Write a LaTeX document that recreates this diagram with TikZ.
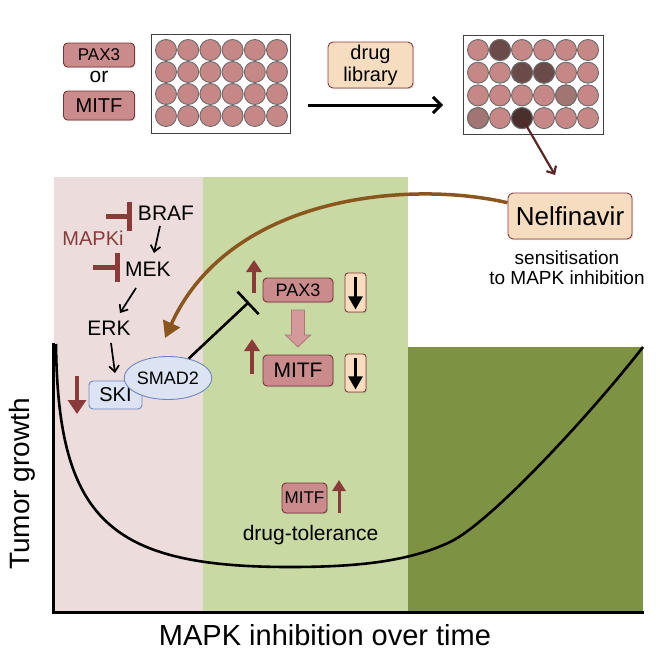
\documentclass[tikz,border=0pt]{standalone}
\usepackage{fontspec}
\setmainfont{Liberation Sans}
\usetikzlibrary{arrows.meta,shapes.geometric,shadows}
\definecolor{pinkbg}{HTML}{ECDDDC}
\definecolor{ltgreen}{HTML}{C8D9A3}
\definecolor{dkgreen}{HTML}{7D9243}
\definecolor{boxred}{HTML}{C98B8B}
\definecolor{boxedge}{HTML}{7A3535}
\definecolor{wellfill}{HTML}{C68886}
\definecolor{wellA}{HTML}{6B4B4A}
\definecolor{wellB}{HTML}{4A2F2F}
\definecolor{wellC}{HTML}{A07572}
\definecolor{peach}{HTML}{F6DDBF}
\definecolor{darkred}{HTML}{8B3A3A}
\definecolor{brownarr}{HTML}{8B561E}
\definecolor{bluefill}{HTML}{DCE3F2}
\definecolor{blueedge}{HTML}{6F86C0}
\definecolor{plotarr}{HTML}{5A2626}
\definecolor{hollowfill}{HTML}{D4999A}
\definecolor{hollowedge}{HTML}{B07676}
\newcommand{\fsz}[1]{\fontsize{#1}{#1}\selectfont}
\begin{document}
\begin{tikzpicture}[x=1pt,y=-1pt,
  txt/.style={inner sep=0pt, font=\fsz{21}},
  shad/.style={drop shadow={opacity=0.25, shadow xshift=1.2pt, shadow yshift=-1.2pt}},
  redbox/.style={draw=boxedge, fill=boxred, line width=0.9pt, rounded corners=4pt, inner sep=0pt, shad},
  peachbox/.style={draw=darkred, fill=peach, line width=0.9pt, rounded corners=5pt, inner sep=0pt, shad},
  bluebox/.style={draw=blueedge, fill=bluefill, line width=0.9pt, inner sep=0pt},
  well/.style={circle, draw=black!58, line width=0.9pt, minimum size=21pt, inner sep=0pt, fill=wellfill},
  blk/.style={line width=1.7pt, -{Straight Barb[length=6pt,width=10pt]}},
  redarr/.style={draw=darkred, line width=3.5pt, -{Triangle[length=12pt,width=15pt]}},
  inhib/.style={draw=darkred, line width=5pt, -{Bar[width=29pt]}},
  dnarr/.style={line width=2.5pt, -{Triangle[length=13pt,width=14pt]}},
]
\useasboundingbox (0,0) rectangle (664,664);
% backgrounds
\fill[pinkbg] (54,177) rectangle (203,612);
\fill[ltgreen] (203,177) rectangle (408,612);
\fill[dkgreen] (408,347) rectangle (643,612);
% axes
\draw[line width=3pt, line join=miter] (53,343) -- (53,612) -- (644,612);
% growth curve
\draw[line width=2.6pt] (56,344) .. controls (58,520) and (110,567) .. (290,567)
  .. controls (360,567) and (410,561) .. (450,542)
  .. controls (490,523) and (590,415) .. (643,347);
% plate 1
\node[draw=black!75, fill=white, line width=1pt, minimum width=139pt, minimum height=99pt, inner sep=0pt] (plateA) at (220.5,83.5) {};
\foreach \i in {0,...,5} \foreach \j in {0,...,3}
  \node[well] (pA-\i-\j) at (166+22.2*\i, 50+22*\j) {};
% plate 2
\node[draw=black!75, fill=white, line width=1pt, minimum width=140pt, minimum height=99pt, inner sep=0pt] (plateB) at (533,84.5) {};
\foreach \i in {0,...,5} \foreach \j in {0,...,3}
  \node[well] (pB-\i-\j) at (478+22*\i, 50+22.7*\j) {};
\node[well, fill=wellA] (hitA) at (500,50) {};
\node[well, fill=wellA] (hitB) at (522,72.7) {};
\node[well, fill=wellA] (hitC) at (544,72.7) {};
\node[well, fill=wellC] (hitD) at (566,95.4) {};
\node[well, fill=wellC] (hitE) at (478,118.1) {};
\node[well, fill=wellB] (hit) at (522,118.1) {};
% top labels
\node[redbox, minimum width=71pt, minimum height=24pt, font=\fsz{17}] (paxA) at (99,55) {PAX3};
\node[txt, font=\fsz{21}] (orA) at (99,77) {or};
\node[redbox, minimum width=71pt, minimum height=29pt, font=\fsz{20}] (mitfA) at (99,105.5) {MITF};
\node[peachbox, minimum width=85pt, minimum height=46pt, align=center, font=\fontsize{20}{22}\selectfont] (lib) at (370.5,65) {drug\\library};
\coordinate (arrS) at (308,105);
\coordinate (arrE) at (443,105);
\draw[line width=3pt, -{Straight Barb[length=8pt,width=16pt]}] (arrS) -- (arrE);
% Nelfinavir
\node[peachbox, minimum width=124pt, minimum height=46pt, font=\fsz{26}] (nelf) at (570,216) {Nelfinavir};
\node[txt, align=center, font=\fontsize{19}{20}\selectfont] (sens) at (567,268) {sensitisation\\to MAPK inhibition};
\coordinate (nelftip) at (555,175);
\draw[draw=plotarr, line width=2.2pt, -{Straight Barb[length=6pt,width=11pt]}] (hit.center) -- (nelftip);
% pathway
\node[txt] (braf) at (166,213) {BRAF};
\node[txt, text=darkred, font=\fsz{20}] (mapki) at (93,238) {MAPKi};
\node[txt] (mek) at (148,269) {MEK};
\node[txt] (erk) at (109,328) {ERK};
\coordinate (inhA) at (106,216);
\coordinate (inhB) at (93,267);
\draw[inhib, shorten >=6pt] (inhA) -- (braf.west |- inhA);
\draw[inhib, shorten >=5pt] (inhB) -- (mek.west |- inhB);
\coordinate (a1s) at (160,226); \coordinate (a1e) at (154,253);
\coordinate (a2s) at (136,288); \coordinate (a2e) at (120,313);
\coordinate (a3s) at (111,343); \coordinate (a3e) at (115,373);
\draw[blk] (a1s) -- (a1e);
\draw[blk] (a2s) -- (a2e);
\draw[blk] (a3s) -- (a3e);
\node[bluebox, rounded corners=4pt, minimum width=53pt, minimum height=28pt, font=\fsz{20}] (ski) at (115.5,395) {SKI};
\node[bluebox, ellipse, minimum width=79pt, minimum height=43pt, font=\fsz{18}] (smad) at (168,378) {SMAD2};
\coordinate (rdS) at (77,376); \coordinate (rdE) at (77,414);
\draw[draw=darkred, line width=4.5pt, -{Triangle[length=14pt,width=18pt]}] (rdS) -- (rdE);
% brown curved arrow
\coordinate (brtip) at (165,338);
\draw[draw=brownarr, line width=3.5pt, -{Triangle[length=16pt,width=18pt]}] (nelf.168) .. controls (410,180) and (230,195) .. (brtip);
% middle
\node[redbox, minimum width=70pt, minimum height=24pt, font=\fsz{18}] (paxB) at (298,290) {PAX3};
\node[redbox, minimum width=70pt, minimum height=31pt, font=\fsz{21}] (mitfB) at (298,370.5) {MITF};
\node[peachbox, rounded corners=3pt, minimum width=21pt, minimum height=39pt] (dnA) at (355.5,292.5) {};
\node[peachbox, rounded corners=3pt, minimum width=21pt, minimum height=38pt] (dnB) at (355.5,373) {};
\draw[dnarr, shorten <=4pt, shorten >=3pt] (dnA.north) -- (dnA.south);
\draw[dnarr, shorten <=4pt, shorten >=3pt] (dnB.north) -- (dnB.south);
\coordinate (upAs) at (254,293); \coordinate (upAe) at (254,260);
\coordinate (upBs) at (252,374); \coordinate (upBe) at (252,339);
\draw[redarr] (upAs) -- (upAe);
\draw[redarr] (upBs) -- (upBe);
\draw[fill=hollowfill, draw=hollowedge, line width=0.8pt, line join=miter] (291.5,310) -- (304.5,310) -- (304.5,335) -- (310.5,335) -- (298,347) -- (285.5,335) -- (291.5,335) -- cycle;
% T-bar inhibition
\coordinate (tbar) at (249,302);
\draw[line width=2.6pt, -{Bar[width=31pt]}] (smad) -- (tbar);
% drug tolerance
\node[redbox, minimum width=45pt, minimum height=30pt, font=\fsz{17}] (mitfC) at (304.5,498) {MITF};
\coordinate (upCs) at (339,513); \coordinate (upCe) at (339,480);
\draw[draw=darkred, line width=3pt, -{Triangle[length=11pt,width=13pt]}] (upCs) -- (upCe);
\node[txt, font=\fsz{21}] (tol) at (310.5,535) {drug-tolerance};
% axis labels
\node[txt, font=\fsz{29}] (xlab) at (325,635.5) {MAPK inhibition over time};
\node[txt, font=\fsz{28}, rotate=90] (ylab) at (22,484) {Tumor growth};
\end{tikzpicture}
\end{document}
